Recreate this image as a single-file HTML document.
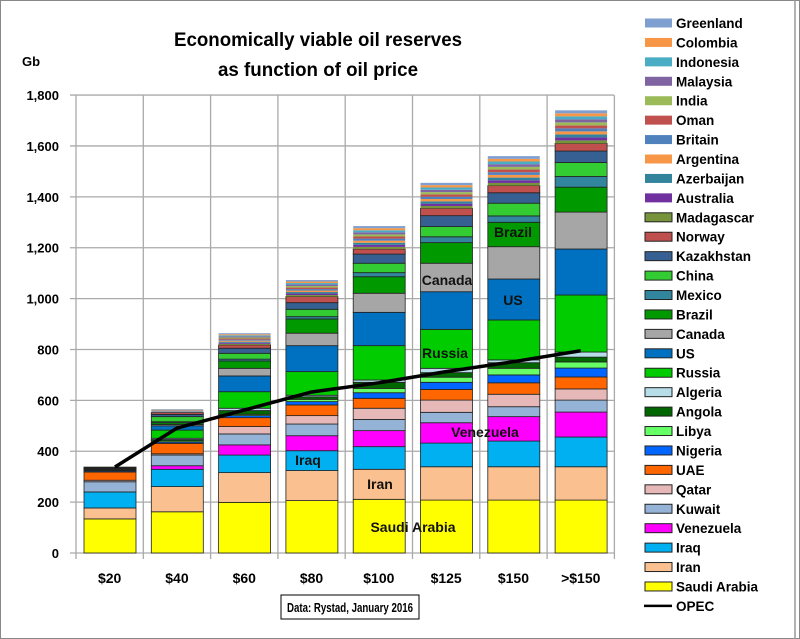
<!DOCTYPE html>
<html><head><meta charset="utf-8"><style>
html,body{margin:0;padding:0;background:#fff}
svg{display:block;font-family:"Liberation Sans",sans-serif}
</style></head><body>
<svg id="c" width="800" height="639" xmlns="http://www.w3.org/2000/svg">
<rect x="0.5" y="0.5" width="799" height="638" fill="#fff" stroke="#888"/>
<text x="318" y="46" font-size="19" font-weight="bold" text-anchor="middle" textLength="288" lengthAdjust="spacingAndGlyphs">Economically viable oil reserves</text>
<text x="318" y="76" font-size="19" font-weight="bold" text-anchor="middle" textLength="200" lengthAdjust="spacingAndGlyphs">as function of oil price</text>
<text x="22" y="66" font-size="13" font-weight="bold">Gb</text>
<g id="grid"></g><g id="bars"></g><g id="lbl"></g><g id="leg"></g>
<rect x="281" y="595" width="138" height="24" fill="#fff" stroke="#000"/>
<text x="350" y="612" font-size="13" font-weight="bold" text-anchor="middle" textLength="126" lengthAdjust="spacingAndGlyphs">Data: Rystad, January 2016</text>
</svg>
<script>
var NS="http://www.w3.org/2000/svg";
function el(p,t,a,txt){var e=document.createElementNS(NS,t);for(var k in a)e.setAttribute(k,a[k]);if(txt!==undefined)e.textContent=txt;document.getElementById(p).appendChild(e);return e;}
var X0=76,Y0=553,S=0.2544,W=67.3;
function Y(v){return Y0-v*S;}
for(var i=0;i<=9;i++){var y=Y(i*200);el("grid","line",{x1:70,x2:614,y1:y,y2:y,stroke:"#aaa","stroke-width":1.3});
el("grid","text",{x:59,y:y+5,"font-size":13,"font-weight":"bold","text-anchor":"end"},i==0?"0":(i*200).toLocaleString("en-US"));}
for(var i=0;i<=8;i++){var x=X0+i*W;el("grid","line",{x1:x,x2:x,y1:Y(1800),y2:559,stroke:"#aaa","stroke-width":1.3});}
var cols=["#ffff00","#fac090","#00b0f0","#ff00ff","#95b3d7","#e6b9b8","#ff6600","#0066ff","#66ff66","#006600","#b7dee8","#00cc00","#0070c0","#a6a6a6","#009900","#31859c","#33cc33","#366092","#c0504d"];
var fine=["#77933c","#7030a0","#31849b","#f79646","#4f81bd","#c0504d","#9bbb59","#8064a2","#4bacc6","#f79646","#7f9fd0"];
var data=[
[134,177,240,240,280,286,318,322,325,328,330,332,333,333,334,334,335,336,338,340],
[162,261,329,343,385,390,431,436,441,446,451,483,500,505,512,516,536,545,552,566],
[199,316,385,425,468,497,532,540,545,560,569,634,696,726,755,762,785,805,818,864],
[206,324,402,461,507,540,582,595,604,614,620,713,815,864,920,929,958,984,1008,1073],
[211,329,418,481,525,569,608,630,647,671,680,815,946,1021,1086,1102,1139,1175,1195,1285],
[208,339,432,512,553,601,643,671,691,709,726,879,1027,1139,1220,1243,1283,1326,1355,1455],
[208,339,440,536,575,624,669,700,726,748,759,916,1077,1204,1300,1325,1375,1416,1444,1560],
[208,339,456,554,601,645,692,727,751,770,790,1014,1195,1340,1438,1480,1535,1580,1610,1740]];
var xl=["$20","$40","$60","$80","$100","$125","$150",">$150"];
data.forEach(function(d,i){var bx=X0+i*W+8,bw=52,prev=0;
 for(var j=0;j<19;j++){var v=d[j];if(v>prev){el("bars","rect",{x:bx,y:Y(v),width:bw,height:(v-prev)*S,fill:cols[j],stroke:"#222","stroke-width":0.8});}prev=v;}
 var top=d[19],step=(top-prev)/11;
 for(var k=0;k<11;k++){var a=prev+k*step,b=a+step;el("bars","rect",{x:bx,y:Y(b),width:bw,height:step*S,fill:fine[k]});}
 el("lbl","text",{x:X0+i*W+W/2,y:583,"font-size":14,"font-weight":"bold","text-anchor":"middle"},xl[i]);
});
var opec=[338,491,562,633,669,713,752,795],pts=[];
opec.forEach(function(v,i){var x=X0+i*W+W/2;if(i==0)x=115;pts.push(x+","+Y(v));});
el("bars","polyline",{points:pts.join(" "),fill:"none",stroke:"#000","stroke-width":3.5});
var L=[["Saudi Arabia",413,532],["Iran",380,489],["Iraq",308,465],["Venezuela",485,437],["Russia",445,358],["Canada",447,285],["US",513,305],["Brazil",513,237]];
L.forEach(function(l){el("lbl","text",{x:l[1],y:l[2],"font-size":14,"font-weight":"bold","text-anchor":"middle",fill:"#111"},l[0]);});
var names=["Greenland","Colombia","Indonesia","Malaysia","India","Oman","Britain","Argentina","Azerbaijan","Australia","Madagascar","Norway","Kazakhstan","China","Mexico","Brazil","Canada","US","Russia","Algeria","Angola","Libya","Nigeria","UAE","Qatar","Kuwait","Venezuela","Iraq","Iran","Saudi Arabia","OPEC"];
var lc=["#7f9fd0","#f79646","#4bacc6","#8064a2","#9bbb59","#c0504d","#4f81bd","#f79646","#31849b","#7030a0","#77933c","#c0504d","#366092","#33cc33","#31859c","#009900","#a6a6a6","#0070c0","#00cc00","#b7dee8","#006600","#66ff66","#0066ff","#ff6600","#e6b9b8","#95b3d7","#ff00ff","#00b0f0","#fac090","#ffff00"];
names.forEach(function(n,i){var y=23+i*19.43;
 if(n=="OPEC"){el("leg","line",{x1:644,x2:672,y1:y,y2:y,stroke:"#000","stroke-width":2.5});}
 else el("leg","rect",{x:645,y:y-4.5,width:27,height:9,fill:lc[i],stroke:i>=10?"#222":"none","stroke-width":1});
 el("leg","text",{x:676,y:y+5,"font-size":13.5,"font-weight":"bold"},n);});
el("leg","line",{x1:795,x2:795,y1:0,y2:639,stroke:"#999","stroke-width":1.5});
</script>
</body></html>
